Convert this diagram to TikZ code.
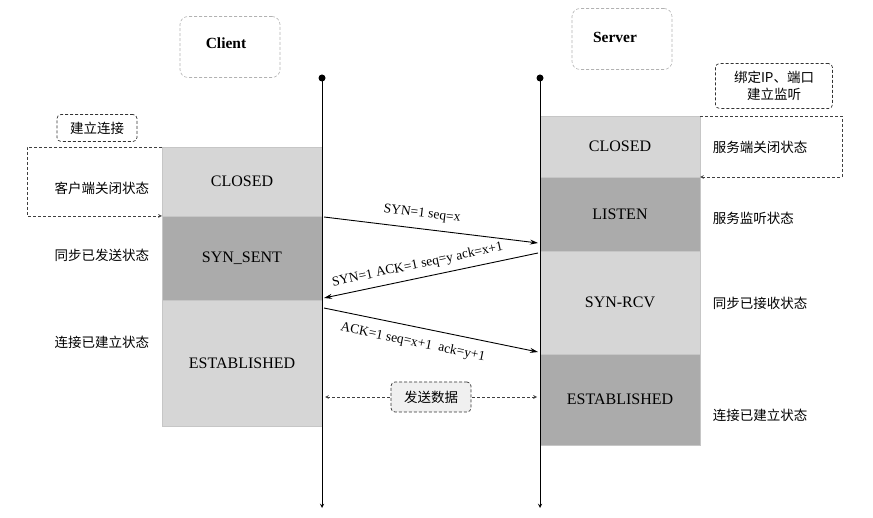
\documentclass[tikz,border=0pt]{standalone}
\usepackage{fontspec}
\setmainfont{Liberation Serif}
\newfontfamily\cjk{Noto Sans CJK SC}
\definecolor{lite}{HTML}{D6D6D6}
\definecolor{dark}{HTML}{ABABAB}
\usetikzlibrary{arrows.meta}
\begin{document}
\begin{tikzpicture}[x=1pt,y=-1pt,>=stealth,line width=0.9pt,
  state/.style={draw=gray!45,line width=0.6pt,outer sep=0pt,minimum width=160pt,font=\fontsize{16}{18}\selectfont},
  host/.style={draw=gray!60,densely dashed,line width=0.6pt,rounded corners=8pt,minimum width=100pt,minimum height=61pt},
  hostname/.style={font=\fontsize{15.5}{18}\selectfont\bfseries},
  note/.style={font=\cjk\fontsize{13.5}{17}\selectfont},
  tag/.style={note,draw=black!80,densely dashed,line width=0.7pt,rounded corners=4pt,align=center,inner sep=4pt},
  msg/.style={font=\fontsize{13.5}{16}\selectfont,sloped},
  send/.style={-{Stealth[length=8pt,width=5pt]}},
  flow/.style={densely dashed,draw=black!75,line width=0.7pt,->}]
\useasboundingbox (0,0) rectangle (873,518);
% hosts
\node[host] (client) at (230,47) {};
\node[hostname] (clientname) at (226,43) {Client};
\node[host] (server) at (622,39) {};
\node[hostname] (servername) at (615,37) {Server};
% client states
\node[state,fill=lite,minimum height=69pt,anchor=north west] (cclosed) at (162,147) {CLOSED};
\node[state,fill=dark,minimum height=84pt,anchor=north] (csent) at (cclosed.south) {SYN\_SENT};
\node[state,fill=lite,minimum height=126pt,anchor=north] (cest) at (csent.south) {ESTABLISHED};
% server states
\node[state,fill=lite,minimum height=61pt,anchor=north west] (sclosed) at (540,116) {CLOSED};
\node[state,fill=dark,minimum height=74pt,anchor=north] (slisten) at (sclosed.south) {LISTEN};
\node[state,fill=lite,minimum height=103pt,anchor=north] (srcv) at (slisten.south) {SYN-RCV};
\node[state,fill=dark,minimum height=91pt,anchor=north] (sest) at (srcv.south) {ESTABLISHED};
% time lines
\coordinate (ctop) at (322,78); \coordinate (cend) at (322,508);
\coordinate (stop) at (540,78); \coordinate (send) at (540,508);
\draw[->] (ctop)--(cend);
\draw[->] (stop)--(send);
\fill (ctop) circle (3.5pt) (stop) circle (3.5pt);
% left notes
\node[tag,minimum width=80pt,minimum height=27pt] (open) at (97,128) {建立连接};
\coordinate (lc) at (27,147);
\draw[flow] (cclosed.north west)--(lc) |- (cclosed.south west);
\node[note,anchor=east] (cn1) at (153,188) {客户端关闭状态};
\node[note,anchor=east] (cn2) at (153,255) {同步已发送状态};
\node[note,anchor=east] (cn3) at (153,342) {连接已建立状态};
% right notes
\node[tag,minimum width=117pt,minimum height=45pt] (bind) at (774,86) {绑定IP、端口\\建立监听};
\coordinate (rc) at (842,116);
\draw[flow] (sclosed.north east)--(rc) |- (sclosed.south east);
\node[note,anchor=west] (sn1) at (709,147) {服务端关闭状态};
\node[note,anchor=west] (sn2) at (709,218) {服务监听状态};
\node[note,anchor=west] (sn3) at (709,303) {同步已接收状态};
\node[note,anchor=west] (sn4) at (709,415) {连接已建立状态};
% handshake
\coordinate (a1) at (324,217); \coordinate (b1) at (538,243);
\coordinate (b2) at (538,253); \coordinate (a2) at (324,298);
\coordinate (a3) at (324,308); \coordinate (b3) at (538,352);
\draw[send] (a1)--(b1) node[msg,above=5pt,pos=0.45]{SYN=1 seq=x};
\draw[send] (b2)--(a2) node[msg,above=3pt,pos=0.55]{SYN=1 ACK=1 seq=y ack=x+1};
\draw[send] (a3)--(b3) node[msg,below=6pt,pos=0.43]{ACK=1 seq=x+1\ \ ack=y+1};
% data
\coordinate (d1) at (325,397); \coordinate (d2) at (537,397);
\draw[flow,<->] (d1)--(d2) node[tag,fill=gray!12,minimum width=80pt,minimum height=30pt,midway] (data) {发送数据};
\end{tikzpicture}
\end{document}
